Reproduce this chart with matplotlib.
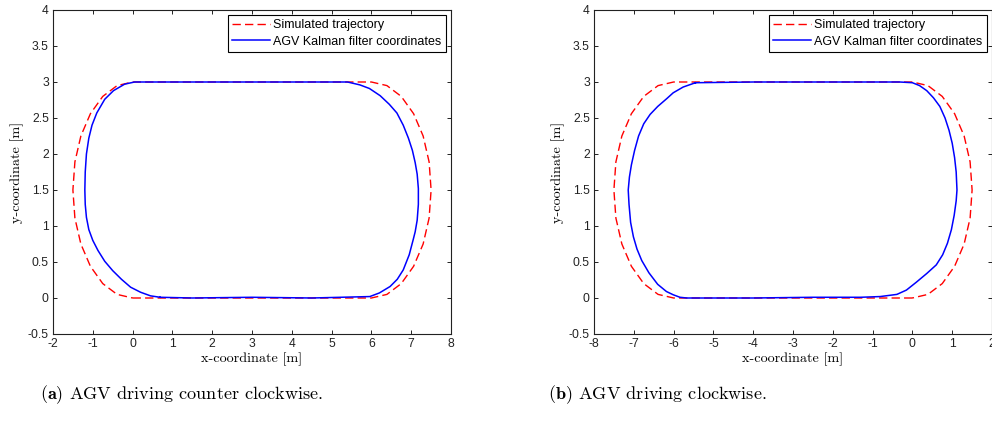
import matplotlib
matplotlib.use('Agg')
import matplotlib.pyplot as plt

# (a) counter clockwise, simulated trajectory (red dashed)
red_a_x = [0, 6, 6.39, 6.75, 7.06, 7.30, 7.45, 7.5, 7.45, 7.30, 7.06, 6.75, 6.39, 6,
           0, -0.39, -0.75, -1.06, -1.30, -1.45, -1.5, -1.45, -1.30, -1.06, -0.75, -0.39, 0]
red_a_y = [0, 0, 0.05, 0.20, 0.44, 0.75, 1.11, 1.5, 1.89, 2.25, 2.56, 2.80, 2.95, 3,
           3, 2.95, 2.80, 2.56, 2.25, 1.89, 1.5, 1.11, 0.75, 0.44, 0.20, 0.05, 0]

# (a) Kalman filter coordinates (blue)
blue_a_x = [0.69, 1.5, 3.0, 4.5, 5.96, 6.20, 6.47, 6.65, 6.80, 6.95, 7.05, 7.10, 7.15, 7.18,
            7.18, 7.15, 7.10, 7.03, 6.93, 6.80, 6.64, 6.45, 6.22, 5.95, 5.71, 5.40, 4.0, 2.0,
            0.05, -0.20, -0.48, -0.70, -0.90, -1.02, -1.10, -1.16, -1.19, -1.20, -1.19, -1.16,
            -1.10, -1.00, -0.87, -0.70, -0.50, -0.28, -0.05, 0.20, 0.45, 0.69]
blue_a_y = [0.01, 0.0, 0.01, 0.0, 0.02, 0.07, 0.16, 0.26, 0.39, 0.60, 0.81, 0.92, 1.08, 1.30,
            1.52, 1.72, 1.88, 2.05, 2.22, 2.40, 2.57, 2.69, 2.81, 2.91, 2.96, 3.0, 3.0, 3.0,
            3.0, 2.97, 2.88, 2.76, 2.57, 2.40, 2.22, 2.00, 1.75, 1.50, 1.30, 1.12,
            0.95, 0.80, 0.66, 0.51, 0.38, 0.26, 0.15, 0.08, 0.03, 0.01]

# (b) clockwise, simulated trajectory (red dashed)
red_b_x = [0, -6, -6.39, -6.75, -7.06, -7.30, -7.45, -7.5, -7.45, -7.30, -7.06, -6.75, -6.39, -6,
           0, 0.39, 0.75, 1.06, 1.30, 1.45, 1.5, 1.45, 1.30, 1.06, 0.75, 0.39, 0]
red_b_y = [0, 0, 0.05, 0.20, 0.44, 0.75, 1.11, 1.5, 1.89, 2.25, 2.56, 2.80, 2.95, 3,
           3, 2.95, 2.80, 2.56, 2.25, 1.89, 1.5, 1.11, 0.75, 0.44, 0.20, 0.05, 0]

# (b) Kalman filter coordinates (blue)
blue_b_x = [-5.45, -5.76, -6.01, -6.17, -6.40, -6.59, -6.75, -6.88, -6.98, -7.06, -7.11,
            -7.14, -7.12, -7.08, -7.01, -6.92, -6.80, -6.62, -6.40, -6.18, -6.01, -5.84,
            -5.67, -4.0, -2.5, -1.3, -0.81, -0.39, -0.15, 0.10, 0.36, 0.60, 0.76, 0.88,
            0.98, 1.05, 1.10, 1.12, 1.10, 1.06, 1.00, 0.92, 0.82, 0.69, 0.53, 0.36, 0.18,
            0.0, -0.32, -2.0, -4.0, -5.45]
blue_b_y = [2.99, 2.93, 2.85, 2.77, 2.66, 2.55, 2.42, 2.25, 2.05, 1.85, 1.68,
            1.50, 1.30, 1.05, 0.85, 0.68, 0.52, 0.35, 0.19, 0.09, 0.045, 0.01,
            0.0, 0.0, 0.01, 0.01, 0.02, 0.05, 0.11, 0.22, 0.34, 0.46, 0.60, 0.76,
            0.95, 1.15, 1.35, 1.50, 1.75, 1.95, 2.15, 2.33, 2.50, 2.66, 2.78, 2.88, 2.95,
            2.99, 3.0, 3.0, 3.0, 2.99]

xticks_a = [-2, -1, 0, 1, 2, 3, 4, 5, 6, 7, 8]
xticks_b = [-8, -7, -6, -5, -4, -3, -2, -1, 0, 1, 2]
yticks = [-0.5, 0, 0.5, 1, 1.5, 2, 2.5, 3, 3.5, 4]

captions = [r'$\mathbf{(a)}$ AGV driving counter clockwise.',
            r'$\mathbf{(b)}$ AGV driving clockwise.']

plt.rcParams['mathtext.fontset'] = 'cm'

fig = plt.figure(figsize=(9.92, 4.26), dpi=100)
ax_a = fig.add_axes([53 / 992, 92 / 426, 398 / 992, 324 / 426])
ax_b = fig.add_axes([594 / 992, 92 / 426, 398 / 992, 324 / 426])

panels = [(ax_a, red_a_x, red_a_y, blue_a_x, blue_a_y, xticks_a),
          (ax_b, red_b_x, red_b_y, blue_b_x, blue_b_y, xticks_b)]

for ax, rx, ry, bx, by, xt in panels:
    ax.plot(rx, ry, color='red', lw=1.0, dashes=(6, 3), label='Simulated trajectory', zorder=2)
    ax.plot(bx, by, color='blue', lw=1.1, label='AGV Kalman filter coordinates', zorder=3)
    ax.set_xlim(xt[0], xt[-1])
    ax.set_ylim(-0.5, 4)
    ax.set_xticks(xt)
    ax.set_yticks(yticks)
    ax.set_xticklabels(['%g' % v for v in xt], family='Liberation Sans', fontsize=8.7)
    ax.set_yticklabels(['%g' % v for v in yticks], family='Liberation Sans', fontsize=8.7)
    ax.tick_params(direction='in', length=3, width=0.7, top=True, right=True, pad=3,
                   colors='#222222')
    for s in ax.spines.values():
        s.set_linewidth(0.8)
        s.set_color('#222222')
    ax.set_xlabel('x-coordinate [m]', family='cmr10', fontsize=10.2, labelpad=2)
    ax.set_ylabel('y-coordinate [m]', family='cmr10', fontsize=10.2, labelpad=3)
    leg = ax.legend(loc='upper right', prop={'family': 'Liberation Sans', 'size': 9},
                    fancybox=False, framealpha=1, edgecolor='black', borderaxespad=0.4,
                    handlelength=3.0, handletextpad=0.3, borderpad=0.35, labelspacing=0.35)
    leg.get_frame().set_linewidth(0.8)

fig.text(40 / 992, 0.073, captions[0], family='cmr10', fontsize=13.1, va='center', ha='left')
fig.text(548 / 992, 0.073, captions[1], family='cmr10', fontsize=13.1, va='center', ha='left')

fig.savefig('out.png', dpi=100)
